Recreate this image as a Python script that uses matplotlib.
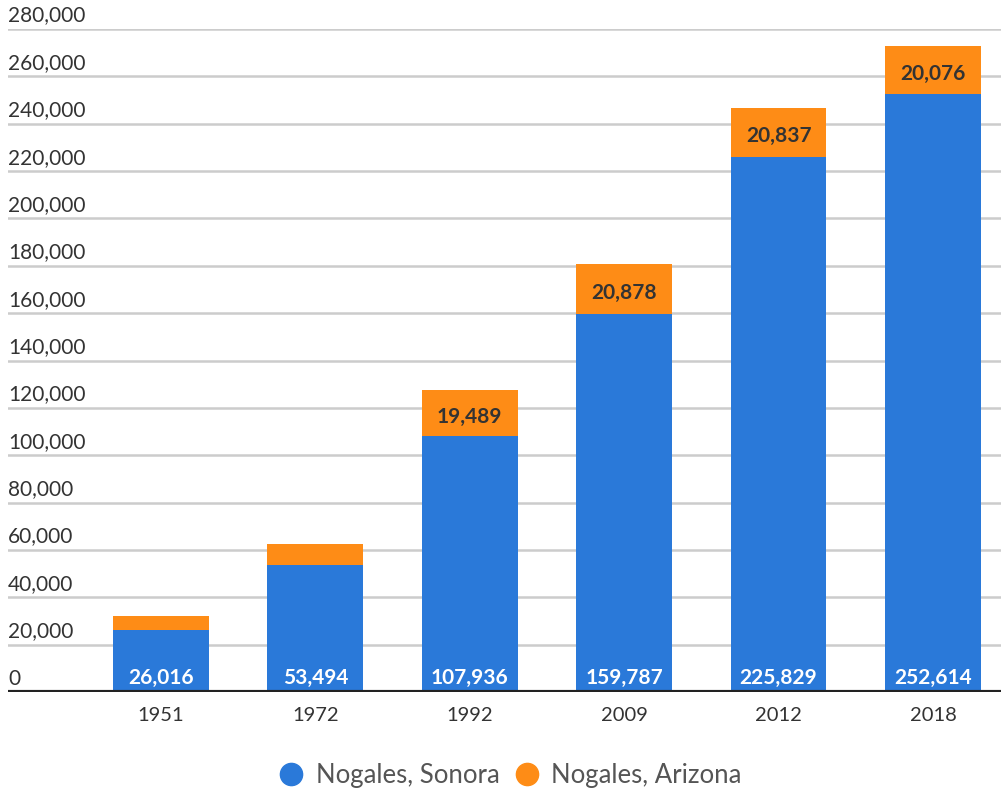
import matplotlib
matplotlib.use("Agg")
import matplotlib.pyplot as plt
from matplotlib.lines import Line2D

years = ["1951", "1972", "1992", "2009", "2012", "2018"]
sonora = [26016, 53494, 107936, 159787, 225829, 252614]
arizona = [6153, 8946, 19489, 20878, 20837, 20076]
arizona_labels = ["", "", "19,489", "20,878", "20,837", "20,076"]
yticks = list(range(0, 280001, 20000))

blue = "#2a79d9"
orange = "#fe8c16"

plt.rcParams['font.family'] = ['Lato', 'DejaVu Sans']

fig = plt.figure(figsize=(10.01, 7.91), dpi=100)
ax = fig.add_axes([8/1001, 1 - 692/791, 993/1001, (692 - 29)/791])

x = list(range(len(years)))
ax.bar(x, sonora, width=0.62, color=blue, zorder=3)
ax.bar(x, arizona, width=0.62, bottom=sonora, color=orange, zorder=3)

ax.set_xlim(-0.99, 5.44)
ax.set_ylim(0, 280000)

for t in yticks:
    if t > 0:
        ax.axhline(t, color="#cccccc", lw=1.8, zorder=1)
    ax.annotate(f"{t:,}", xy=(0, t), xycoords=ax.get_yaxis_transform(),
                xytext=(0, 2.5), textcoords="offset points",
                ha="left", va="bottom", fontsize=15, color="#333333")
ax.axhline(0, color="#222222", lw=3, zorder=4)

for xi, s, a, lab in zip(x, sonora, arizona, arizona_labels):
    ax.annotate(f"{s:,}", xy=(xi, 0), xytext=(0, 3), textcoords="offset points",
                ha="center", va="bottom", fontsize=15, fontweight="bold",
                color="white", zorder=5)
    if lab:
        ax.text(xi, s + a / 2 - 1500, lab, ha="center", va="center", fontsize=15,
                fontweight="bold", color="#333333", zorder=5)

ax.set_xticks(x)
ax.set_xticklabels(years, fontsize=14.5, color="#333333")
ax.tick_params(axis="x", length=0, pad=11)
ax.set_yticks([])
for sp in ax.spines.values():
    sp.set_visible(False)

handles = [Line2D([], [], marker="o", ls="", markersize=16, color=blue),
           Line2D([], [], marker="o", ls="", markersize=16, color=orange)]
fig.legend(handles, ["Nogales, Sonora", "Nogales, Arizona"], loc="center",
           bbox_to_anchor=(510/1001, 1 - 775/791), ncol=2, frameon=False,
           fontsize=18.5, labelcolor="#555555", handlelength=1.0,
           handletextpad=0.45, columnspacing=0.55)

fig.savefig("out.png", dpi=100)
